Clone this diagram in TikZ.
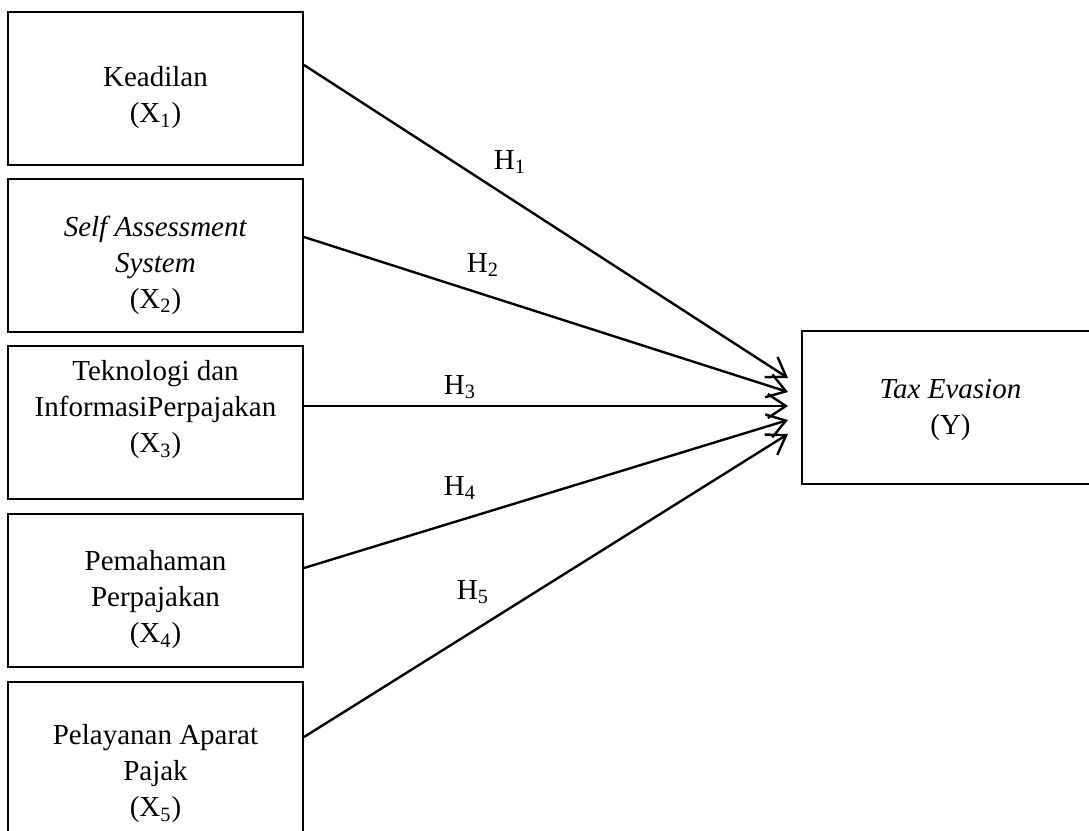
\documentclass[tikz,border=0pt]{standalone}
\usepackage{fontspec}
\setmainfont{Liberation Serif}
\usetikzlibrary{arrows.meta}

\begin{document}
\begin{tikzpicture}[x=0.5pt, y=-0.5pt, line width=1pt]
      \tikzstyle{arrow} = [line width=1.2pt, -{Straight Barb[length=9pt, width=12pt, line width=1.2pt]}]
      \tikzstyle{varbox} = [rectangle, draw=black, minimum width=147.5pt, minimum height=76.5pt, inner sep=0pt]
      \tikzstyle{vartext} = [align=center, font=\fontsize{14.5}{18}\selectfont, inner sep=0pt]
      \tikzstyle{hyp} = [font=\fontsize{14.5}{18}\selectfont, inner sep=0pt]

      \useasboundingbox (0,0) rectangle (1089,831);

      % independent variables
      \foreach \i/\cy in {1/88.5, 2/255.5, 3/422, 4/590.5, 5/758.5}
      {
        \node[varbox] (x-\i) at (155.5,\cy) {};
      }
      \node[vartext] (t-1) at (155.5,98) {Keadilan\\(X\textsubscript{1})};
      \node[vartext] (t-2) at (155.5,265) {\textit{Self Assessment}\\\textit{System}\\(X\textsubscript{2})};
      \node[vartext] (t-3) at (155.5,410) {Teknologi dan\\InformasiPerpajakan\\(X\textsubscript{3})};
      \node[vartext] (t-4) at (155.5,600) {Pemahaman\\Perpajakan\\(X\textsubscript{4})};
      \node[vartext] (t-5) at (155.5,774) {Pelayanan Aparat\\Pajak\\(X\textsubscript{5})};

      % dependent variable
      \node[varbox, minimum width=148.5pt] (y) at (950.5,407.5) {};
      \node[vartext] (t-y) at (950.5,410) {\textit{Tax Evasion}\\(Y)};

      \foreach \i/\s/\e in {1/11.75/14.75, 2/9.25/7.75, 3/8/0.75, 4/11.25/-6.25, 5/10.75/-13.25}
      {
        \draw [arrow] ([yshift=\s pt]x-\i.east) -- ([xshift=-6.5pt, yshift=\e pt]y.west);
      }

      \foreach \i/\hx/\hy in {1/510/162, 2/483/265, 3/460/387, 4/460/488, 5/473/592}
      {
        \node[hyp] (h-\i) at (\hx,\hy) {H\textsubscript{\i}};
      }
\end{tikzpicture}
\end{document}
